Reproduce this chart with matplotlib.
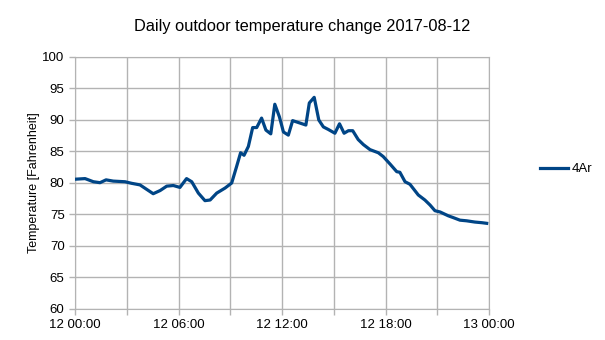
import numpy as np
import matplotlib.pyplot as plt
import matplotlib.dates as mdates
from datetime import datetime, timedelta

plt.rcParams['font.family'] = ['Liberation Sans', 'DejaVu Sans']

# sensor 4Ar readings, 2017-08-12 (local time, deg F)
times = ["00:00", "00:35", "01:04", "01:27", "01:48", "02:13", "02:54", "03:17",
         "03:46", "04:09", "04:32", "04:56", "05:19", "05:42", "06:05", "06:28",
         "06:46", "07:09", "07:32", "07:50", "08:13", "08:42", "09:05", "09:22",
         "09:36", "09:48", "10:03", "10:18", "10:32", "10:49", "11:04", "11:21",
         "11:35", "11:51", "12:05", "12:22", "12:37", "12:57", "13:23", "13:35",
         "13:52", "14:08", "14:24", "14:41", "15:04", "15:20", "15:36", "15:51",
         "16:06", "16:25", "16:43", "17:06", "17:35", "17:52", "18:16", "18:39",
         "18:50", "19:08", "19:25", "19:54", "20:17", "20:35", "20:52", "21:10",
         "21:38", "21:56", "22:19", "22:42", "23:11", "23:35", "23:52"]
temps = [80.6, 80.7, 80.2, 80.05, 80.5, 80.3, 80.2, 79.95,
         79.7, 79.0, 78.3, 78.8, 79.5, 79.6, 79.3, 80.7,
         80.2, 78.4, 77.2, 77.3, 78.4, 79.2, 80.0, 82.6,
         84.8, 84.4, 85.8, 88.8, 88.8, 90.3, 88.4, 87.8,
         92.5, 90.5, 88.1, 87.6, 89.9, 89.6, 89.2, 92.7,
         93.6, 90.0, 88.9, 88.5, 87.9, 89.4, 87.9, 88.3,
         88.3, 86.9, 86.1, 85.3, 84.8, 84.2, 83.0, 81.8,
         81.7, 80.2, 79.8, 78.1, 77.3, 76.5, 75.6, 75.4,
         74.8, 74.5, 74.1, 74.0, 73.8, 73.7, 73.6]

day = datetime(2017, 8, 12)
x = [datetime.strptime("2017-08-12 " + t, "%Y-%m-%d %H:%M") for t in times]

fig = plt.figure(figsize=(6.05, 3.4), dpi=100)
ax = fig.add_axes([75 / 605, 1 - 309 / 340, (489 - 75) / 605, (309 - 57) / 340])

grey = '#b3b3b3'
ax.plot(x, temps, color='#004586', linewidth=2.3, label='4Ar', zorder=3)

ax.set_xlim(day, day + timedelta(days=1))
ax.set_ylim(60, 100)
ax.set_yticks(np.arange(60, 101, 5))

ax.xaxis.set_major_locator(mdates.HourLocator(byhour=[0, 6, 12, 18]))
ax.xaxis.set_minor_locator(mdates.HourLocator(byhour=[3, 9, 15, 21]))
ax.xaxis.set_major_formatter(mdates.DateFormatter('%d %H:%M'))

ax.grid(True, which='both', axis='x', color=grey, linewidth=1)
ax.grid(True, which='major', axis='y', color=grey, linewidth=1)
ax.set_axisbelow(True)

for s in ax.spines.values():
    s.set_color(grey)
ax.tick_params(which='both', colors=grey, length=4, width=1, labelcolor='black',
               labelsize=9.5)
ax.tick_params(axis='x', pad=3)

ax.set_ylabel('Temperature [Fahrenheit]', fontsize=9, labelpad=2)
fig.text(302 / 605, 1 - 26 / 340, 'Daily outdoor temperature change 2017-08-12',
         ha='center', va='center', fontsize=11.8)

ax.legend(loc='center left', bbox_to_anchor=(1.095, 0.555), frameon=False,
          fontsize=9.5, handlelength=2.1, handletextpad=0.25)

fig.savefig('out.png', dpi=100)
